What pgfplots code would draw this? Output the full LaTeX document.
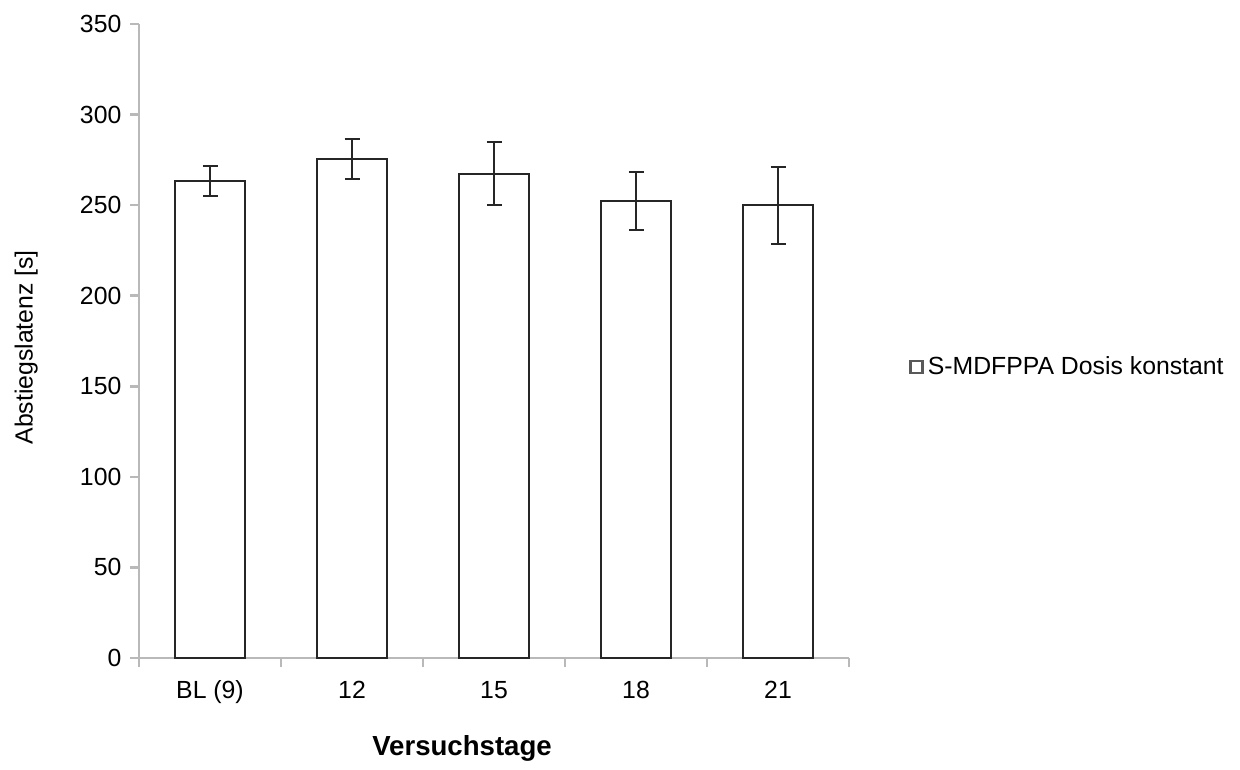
\documentclass[border=0pt]{standalone}
\usepackage{pgfplots}
\pgfplotsset{compat=1.18}
\usepackage{fontspec}
\setmainfont{Liberation Sans}
\definecolor{axgray}{RGB}{185,185,185}
\begin{document}
\fontsize{12.4}{14}\selectfont
\begin{tikzpicture}
\begin{axis}[
  scale only axis, width=355pt, height=317pt,
  clip=false,
  xmin=-0.5, xmax=4.5, ymin=0, ymax=350,
  axis x line=bottom, axis y line=left,
  axis line style={axgray, line width=1.3pt, -},
  ytick={0,50,...,350},
  xtick={-0.5,0.5,1.5,2.5,3.5,4.5}, xticklabels={},
  extra x ticks={0,1,2,3,4},
  extra x tick labels={BL (9),12,15,18,21},
  extra x tick style={major tick length=0pt, tick label style={yshift=-7pt, text height=9pt, text depth=2.5pt}},
  tick align=outside,
  major tick length=4.5pt,
  tick style={axgray, line width=1.3pt},
  /pgf/number format/assume math mode=true,
  tick label style={font=\fontsize{12.4}{14}\selectfont, black},
  xlabel={\textbf{Versuchstage}},
  xlabel style={at={(axis description cs:0.455,-0.142)}, anchor=center, font=\fontsize{13.8}{16}\selectfont},
  ylabel={Abstiegslatenz [s]},
  ylabel style={at={(axis description cs:-0.159,0.49)}, anchor=center},
  legend style={at={(1.0845,0.459)}, anchor=west, draw=none, fill=none,
    inner sep=0pt, font=\fontsize{12.4}{14}\selectfont},
  legend cell align=left,
  legend image code/.code={\draw[line width=1.2pt, draw=black!65, fill=white] (0pt,-3pt) rectangle (6pt,3pt);},
]
\addplot[ybar, bar width=0.49, fill=white, draw=black!85, line width=1pt,
  error bars/.cd, y dir=both, y explicit,
  error bar style={line width=1pt, black!85},
  error mark options={rotate=90, line width=1pt, black!85, mark size=3.75pt}]
  coordinates {
    (0,263.5) +- (0,8.3)
    (1,275.5) +- (0,11.2)
    (2,267.4) +- (0,17.5)
    (3,252.3) +- (0,16.2)
    (4,249.9) +- (0,21.1)
  };
\addlegendentry{S-MDFPPA Dosis konstant}
\path (rel axis cs:-0.1958,1.0379) rectangle (rel axis cs:1.5507,-0.1688);
\end{axis}
\end{tikzpicture}
\end{document}
